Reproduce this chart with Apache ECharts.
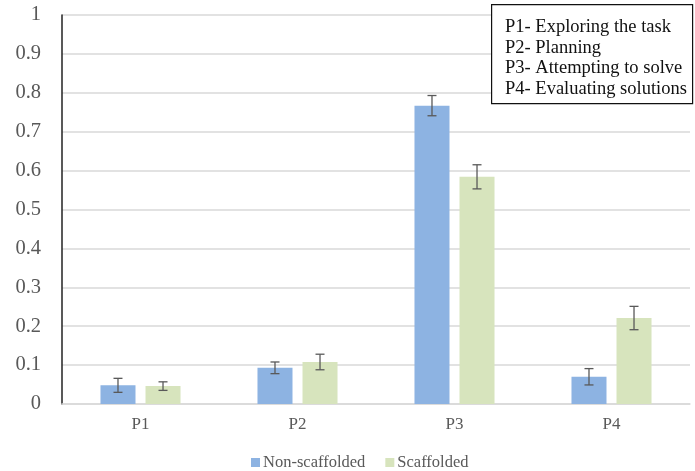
<!DOCTYPE html>
<html><head><meta charset="utf-8">
<script src="https://cdn.jsdelivr.net/npm/echarts@6/dist/echarts.min.js"></script>
<style>html,body{margin:0;padding:0;background:#fff}#c{width:695px;height:471px}</style>
</head><body><div id="c"></div>
<script>
var categories = ['P1', 'P2', 'P3', 'P4'];
var nonScaffolded = [0.048, 0.093, 0.767, 0.070];
var nonScaffoldedErr = [0.018, 0.015, 0.026, 0.021];
var scaffolded = [0.046, 0.108, 0.584, 0.221];
var scaffoldedErr = [0.011, 0.020, 0.031, 0.030];
var yTicks = ['0', '0.1', '0.2', '0.3', '0.4', '0.5', '0.6', '0.7', '0.8', '0.9', '1'];
var boxLines = ['P1- Exploring the task', 'P2- Planning', 'P3- Attempting to solve', 'P4- Evaluating solutions'];

var BAR = 0.223, GAP = 0.286;
var FONT = '"Liberation Serif", "Times New Roman", serif';

function errSeries(vals, errs, side) {
  return {
    type: 'custom',
    silent: true,
    z: 5,
    data: vals.map(function (v, i) { return [i, v - errs[i], v + errs[i]]; }),
    encode: { x: 0, y: [1, 2] },
    renderItem: function (params, api) {
      var i = api.value(0);
      var band = api.size([1, 0])[0];
      var off = side * band * (BAR + BAR * GAP) / 2;
      var lo = api.coord([i, api.value(1)]);
      var hi = api.coord([i, api.value(2)]);
      var x = lo[0] + off, w = 4.5;
      var st = { stroke: '#595959', lineWidth: 1.3 };
      return { type: 'group', children: [
        { type: 'line', shape: { x1: x, y1: lo[1], x2: x, y2: hi[1] }, style: st },
        { type: 'line', shape: { x1: x - w, y1: lo[1], x2: x + w, y2: lo[1] }, style: st },
        { type: 'line', shape: { x1: x - w, y1: hi[1], x2: x + w, y2: hi[1] }, style: st }
      ]};
    }
  };
}

var chart = echarts.init(document.getElementById('c'));
chart.setOption({
  animation: false,
  textStyle: { fontFamily: FONT },
  grid: { left: 62, right: 5, top: 15, bottom: 67, containLabel: false },
  legend: {
    top: 449, left: 246, itemWidth: 9, itemHeight: 9, itemGap: 20,
    icon: 'rect',
    textStyle: { fontFamily: FONT, fontSize: 16.5, color: '#595959', padding: [0, 0, 0, -2] },
    data: ['Non-scaffolded', 'Scaffolded']
  },
  xAxis: {
    type: 'category', data: categories,
    axisLine: { lineStyle: { color: '#d9d9d9', width: 1.5 } },
    axisTick: { show: false },
    axisLabel: { fontFamily: FONT, fontSize: 17, color: '#595959', margin: 12 }
  },
  yAxis: {
    type: 'value', min: 0, max: 1, interval: 0.1,
    axisLine: { show: true, lineStyle: { color: '#222', width: 1.5 } },
    axisTick: { show: false },
    splitLine: { lineStyle: { color: '#d9d9d9', width: 1.5 } },
    axisLabel: {
      fontFamily: FONT, fontSize: 20.5, color: '#595959', margin: 21,
      formatter: function (v) { return yTicks[Math.round(v * 10)]; }
    }
  },
  series: [
    { name: 'Non-scaffolded', type: 'bar', data: nonScaffolded, barWidth: (BAR * 100) + '%', barGap: (GAP * 100) + '%',
      itemStyle: { color: '#8db3e2' } },
    { name: 'Scaffolded', type: 'bar', data: scaffolded, barWidth: (BAR * 100) + '%', barGap: (GAP * 100) + '%',
      itemStyle: { color: '#d7e4bd' } },
    errSeries(nonScaffolded, nonScaffoldedErr, -1),
    errSeries(scaffolded, scaffoldedErr, 1)
  ],
  graphic: [
    { type: 'rect', left: 491, top: 4, z: 10,
      shape: { width: 201, height: 99 },
      style: { fill: '#fff', stroke: '#111', lineWidth: 1.2 } },
    { type: 'text', left: 505, top: 17, z: 11,
      style: { text: boxLines.join('\n'), fontFamily: FONT, fontSize: 18.5, lineHeight: 20.5, fill: '#111' } }
  ]
});
</script>
</body></html>
